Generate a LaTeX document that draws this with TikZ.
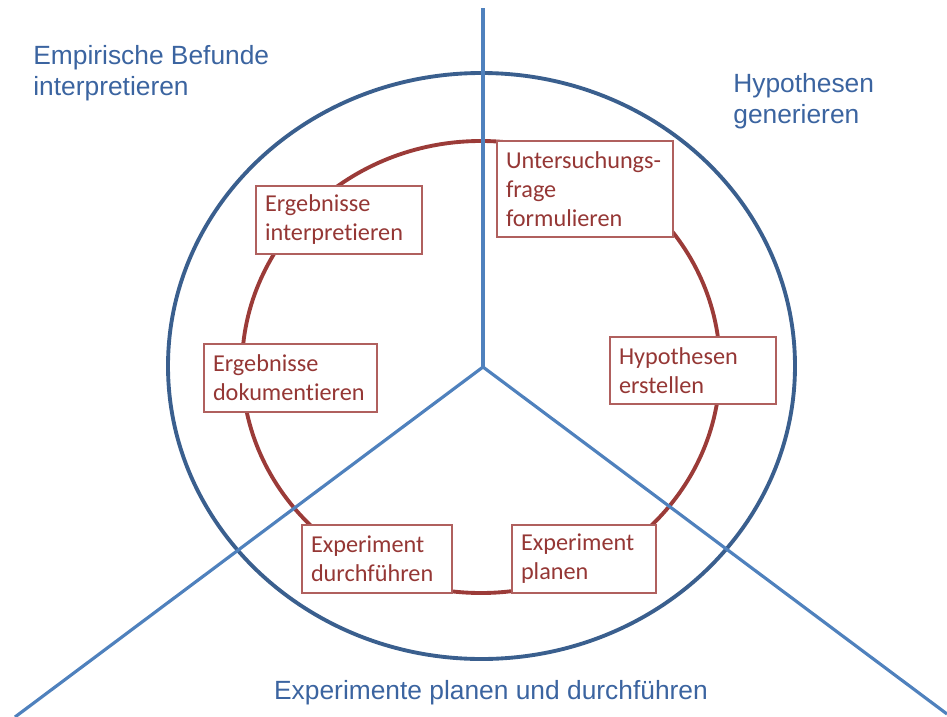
\documentclass[tikz,border=0pt]{standalone}
\usepackage{xcolor}
\usepackage{fontspec}
\usepackage{tikz}
\usetikzlibrary{positioning}

\setmainfont{Liberation Sans}
\newfontfamily\boxfont[Ligatures=NoCommon]{Carlito}

\definecolor{ringblue}{HTML}{3A5F8E}
\definecolor{lineblue}{HTML}{4F81BD}
\definecolor{ringred}{HTML}{9B3B38}
\definecolor{boxred}{HTML}{B0605E}
\definecolor{textred}{HTML}{953735}
\definecolor{labelblue}{HTML}{3B64A0}

\begin{document}
\begin{tikzpicture}[
			x=0.02cm, y=-0.02cm,
			stepbox/.style={
				rectangle, draw=boxred, line width=0.6pt, fill=white,
				align=left, inner xsep=0.18cm, inner ysep=0pt,
				font=\boxfont\fontsize{13.8}{16.5}\selectfont, text=textred
			},
			phase/.style={
				inner sep=0pt, align=left, text=labelblue,
				font=\fontsize{15}{17.6}\selectfont
			},
			spoke/.style={
				draw=lineblue, line width=1.8pt
			}
			]
			
			\useasboundingbox (0,0) rectangle (947,717);
			
			% rings
			\draw[ringblue, line width=2.2pt] (481.5,366) ellipse [x radius=313.5, y radius=293];
			\draw[ringred, line width=2.2pt] (481,367) ellipse [x radius=239, y radius=226];
			
			% spokes
			\coordinate (hub) at (483,367);
			\coordinate (top) at (483,8);
			\coordinate (lowleft) at (15,717);
			\coordinate (lowright) at (947,714);
			\draw[spoke] (hub) -- (top);
			\draw[spoke] (hub) -- (lowleft);
			\draw[spoke] (hub) -- (lowright);
			
			% steps of the cycle
			\node[stepbox, text width=3.16cm, minimum height=1.92cm] (frage) at (585,189) {Untersuchungs-\\frage\\formulieren};
			\node[stepbox, text width=2.96cm, minimum height=1.34cm] (hypo) at (693,370.5) {Hypothesen\\erstellen};
			\node[stepbox, text width=2.52cm, minimum height=1.36cm] (planen) at (584,559) {Experiment\\planen};
			\node[stepbox, text width=2.64cm, minimum height=1.36cm] (durch) at (377,559) {Experiment\\durchführen};
			\node[stepbox, text width=3.10cm, minimum height=1.36cm] (doku) at (290.5,378) {Ergebnisse\\dokumentieren};
			\node[stepbox, text width=2.96cm, minimum height=1.36cm] (interp) at (339,220) {Ergebnisse\\interpretieren};
			
			% phases
			\node[phase, anchor=north west] (befunde) at (33,45) {Empirische Befunde\\interpretieren};
			\node[phase, anchor=north west] (generieren) at (733,73) {Hypothesen\\generieren};
			\node[phase, anchor=north] (experimente) at (491,680) {Experimente planen und durchführen};
			
		\end{tikzpicture}
\end{document}
